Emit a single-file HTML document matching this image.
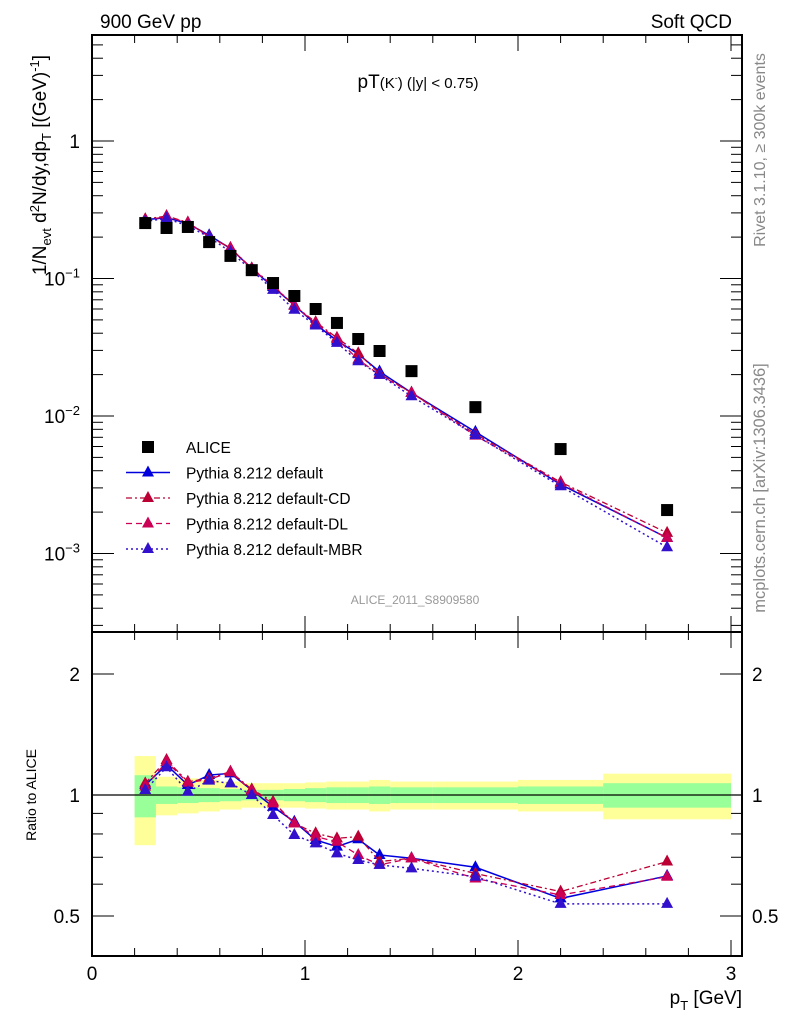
<!DOCTYPE html>
<html><head><meta charset="utf-8">
<style>
html,body{margin:0;padding:0;background:#fff;}
svg{display:block;font-family:"Liberation Sans",sans-serif;}
</style></head>
<body>
<svg id="chart" width="786" height="1024" viewBox="0 0 786 1024" xmlns="http://www.w3.org/2000/svg">
<text x="100" y="28" font-size="19">900 GeV pp</text>
<text x="732" y="28" font-size="19" text-anchor="end">Soft QCD</text>
<text x="418" y="88" font-size="19" text-anchor="middle">pT<tspan font-size="15">(K</tspan><tspan font-size="9" dy="-7">-</tspan><tspan font-size="15" dy="7">)</tspan><tspan font-size="15"> (|y| &lt; 0.75)</tspan></text>
<text x="415" y="604" font-size="12" fill="#999" text-anchor="middle">ALICE_2011_S8909580</text>
<text transform="translate(765,150) rotate(-90)" font-size="16" fill="#888" text-anchor="middle">Rivet 3.1.10, ≥ 300k events</text>
<text transform="translate(765,488) rotate(-90)" font-size="16.5" fill="#888" text-anchor="middle">mcplots.cern.ch [arXiv:1306.3436]</text>
<text transform="translate(46,165) rotate(-90)" font-size="19" text-anchor="middle">1/N<tspan font-size="13" dy="5">evt</tspan><tspan dy="-5"> d</tspan><tspan font-size="13" dy="-7">2</tspan><tspan dy="7">N/dy,dp</tspan><tspan font-size="13" dy="5">T</tspan><tspan dy="-5"> [(GeV)</tspan><tspan font-size="13" dy="-7">-1</tspan><tspan dy="7">]</tspan></text>
<text transform="translate(36,795) rotate(-90)" font-size="14" text-anchor="middle">Ratio to ALICE</text>
<text x="742" y="1004" font-size="19" text-anchor="end">p<tspan font-size="13" dy="6">T</tspan><tspan dy="-6"> [GeV]</tspan></text>
<g id="g"></g>
</svg>
<script>
const xs=[0.25,0.35,0.45,0.55,0.65,0.75,0.85,0.95,1.05,1.15,1.25,1.35,1.5,1.8,2.2,2.7];
const alice=[0.253,0.233,0.237,0.184,0.146,0.115,0.0927,0.0746,0.060,0.0475,0.0363,0.0297,0.0212,0.0116,0.00575,0.00207];
const rDefault=[1.059,1.188,1.059,1.121,1.132,1.029,0.935,0.858,0.773,0.744,0.776,0.709,0.696,0.661,0.553,0.629];
const rCD=[1.069,1.222,1.079,1.100,1.143,1.033,0.962,0.850,0.803,0.780,0.788,0.683,0.696,0.638,0.575,0.683];
const rDL=[1.049,1.210,1.073,1.094,1.139,1.025,0.953,0.850,0.788,0.765,0.709,0.670,0.696,0.620,0.564,0.626];
const rMBR=[1.029,1.172,1.019,1.086,1.069,1.000,0.892,0.795,0.758,0.716,0.689,0.670,0.657,0.626,0.536,0.536];
const binEdges=[0.2,0.3,0.4,0.5,0.6,0.7,0.8,0.9,1.0,1.1,1.2,1.3,1.4,1.6,2.0,2.4,3.0];
const bandYellow=[0.25,0.11,0.10,0.09,0.08,0.07,0.07,0.07,0.075,0.08,0.08,0.09,0.08,0.08,0.09,0.13];
const bandGreen=[0.12,0.05,0.045,0.04,0.035,0.03,0.03,0.035,0.04,0.045,0.045,0.05,0.045,0.045,0.05,0.07];
const xTicks=[0,1,2,3];
const mainTicks=[1,0.1,0.01,0.001];
const mainTickLabels=["1","10","10","10"];
const mainTickExp=["","−1","−2","−3"];
const ratioTicks=[0.5,1,2];
const ratioTickLabels=["0.5","1","2"];

const L=92,R=742,T=35,MB=632,B=956;
const X=v=>92+v*213;
const YM=v=>141-(Math.log10(v))*137.5;
const YR=v=>795-Math.log2(v)*121;
const NS="http://www.w3.org/2000/svg";
const g=document.getElementById('g');
function el(t,a,p){const e=document.createElementNS(NS,t);for(const k in a)e.setAttribute(k,a[k]);(p||g).appendChild(e);return e;}

for(let i=0;i<bandYellow.length;i++){
  const x0=X(binEdges[i]),x1=X(binEdges[i+1]);
  const y=el('rect',{x:x0,y:YR(1+bandYellow[i]),width:x1-x0,height:YR(1-bandYellow[i])-YR(1+bandYellow[i]),fill:'#ffff99'});
  
  
}
for(let i=0;i<bandGreen.length;i++){
  const x0=X(binEdges[i]),x1=X(binEdges[i+1]);
  const r=el('rect',{x:x0,y:YR(1+bandGreen[i]),width:x1-x0,height:YR(1-bandGreen[i])-YR(1+bandGreen[i]),fill:'#99ff99'});
  
  
}
const one=el('line',{x1:L,x2:R,y1:YR(1),y2:YR(1),stroke:'#000','stroke-width':1.3});



const f1=el('rect',{x:L,y:T,width:R-L,height:MB-T,fill:'none',stroke:'#000','stroke-width':2});


const f2=el('rect',{x:L,y:MB,width:R-L,height:B-MB,fill:'none',stroke:'#000','stroke-width':2});



for(let v=0;v<=3.001;v+=0.2){
  const maj=Math.abs(v-Math.round(v))<1e-6;const len=maj?16:8;
  for(const [yb,dir] of [[B,-1],[MB,-1],[MB,1],[T,1]]){
    el('line',{x1:X(v),x2:X(v),y1:yb,y2:yb+dir*len,stroke:'#000','stroke-width':1});
  }
}
xTicks.forEach(v=>{const t=el('text',{x:X(v),y:980,'font-size':19,'text-anchor':'middle'});t.textContent=v;

});

for(let d=-4;d<=1;d++){for(let m=1;m<=9;m++){const v=m*Math.pow(10,d);const y=YM(v);if(y<T||y>MB)continue;const len=m==1?22:11;
el('line',{x1:L,x2:L+len,y1:y,y2:y,stroke:'#000','stroke-width':1});el('line',{x1:R,x2:R-len,y1:y,y2:y,stroke:'#000','stroke-width':1});}}
mainTicks.forEach((v,i)=>{const t=el('text',{x:80,y:YM(v)+7,'font-size':19,'text-anchor':'end'});


t.textContent=mainTickLabels[i];
if(mainTickExp[i]){const s=el('tspan',{'font-size':13,dy:-8},t);s.textContent=mainTickExp[i];}});

for(const v of [0.5,0.6,0.7,0.8,0.9,1,2]){const y=YR(v);const len=(v==0.5||v==1||v==2)?22:11;
el('line',{x1:L,x2:L+len,y1:y,y2:y,stroke:'#000','stroke-width':1});el('line',{x1:R,x2:R-len,y1:y,y2:y,stroke:'#000','stroke-width':1});}
ratioTicks.forEach((v,i)=>{const t=el('text',{x:80,y:YR(v)+7,'font-size':19,'text-anchor':'end'});t.textContent=ratioTickLabels[i];


const t2=el('text',{x:752,y:YR(v)+7,'font-size':19});t2.textContent=ratioTickLabels[i];

});

const series=[
 {name:'pythia-default',r:rDefault,c:'#0000dd',dash:'',w:1.5},
 {name:'pythia-default-cd',r:rCD,c:'#bb0033',dash:'6,3,2,3',w:1.3},
 {name:'pythia-default-dl',r:rDL,c:'#cc0055',dash:'6,4',w:1.3},
 {name:'pythia-default-mbr',r:rMBR,c:'#3311cc',dash:'2,3',w:1.5},
];
function tri(x,y,c,p){return el('polygon',{points:`${x},${y-7} ${x-6},${y+4} ${x+6},${y+4}`,fill:c},p);}
series.forEach(s=>{
  const pm=xs.map((x,i)=>`${X(x)},${YM(alice[i]*s.r[i])}`).join(' ');
  const l1=el('polyline',{points:pm,fill:'none',stroke:s.c,'stroke-width':s.w,'stroke-dasharray':s.dash});
  
  
  const pr=xs.map((x,i)=>`${X(x)},${YR(s.r[i])}`).join(' ');
  const l2=el('polyline',{points:pr,fill:'none',stroke:s.c,'stroke-width':s.w,'stroke-dasharray':s.dash});
  
  
  xs.forEach((x,i)=>{
    const a=tri(X(x),YM(alice[i]*s.r[i]),s.c);
    
    
    const b=tri(X(x),YR(s.r[i]),s.c);
    
    
  });
});
alice.forEach((v,i)=>{
  const r=el('rect',{x:X(xs[i])-6,y:YM(v)-6,width:12,height:12,fill:'#000'});
  
  
});

const leg=[['ALICE',null],['Pythia 8.212 default',series[0]],['Pythia 8.212 default-CD',series[1]],['Pythia 8.212 default-DL',series[2]],['Pythia 8.212 default-MBR',series[3]]];
leg.forEach((e,i)=>{
  const y=447+i*25.5;
  const lg=el('g',{});
  
  
  if(i==0){el('rect',{x:142,y:y-6,width:12,height:12,fill:'#000'},lg);}
  else{const s=e[1];el('line',{x1:126,x2:170,y1:y,y2:y,stroke:s.c,'stroke-width':s.w,'stroke-dasharray':s.dash},lg);tri(148,y,s.c,lg);}
  const t=el('text',{x:186,y:y+6,'font-size':15.5},lg);t.textContent=e[0];
});
</script>
</body></html>
